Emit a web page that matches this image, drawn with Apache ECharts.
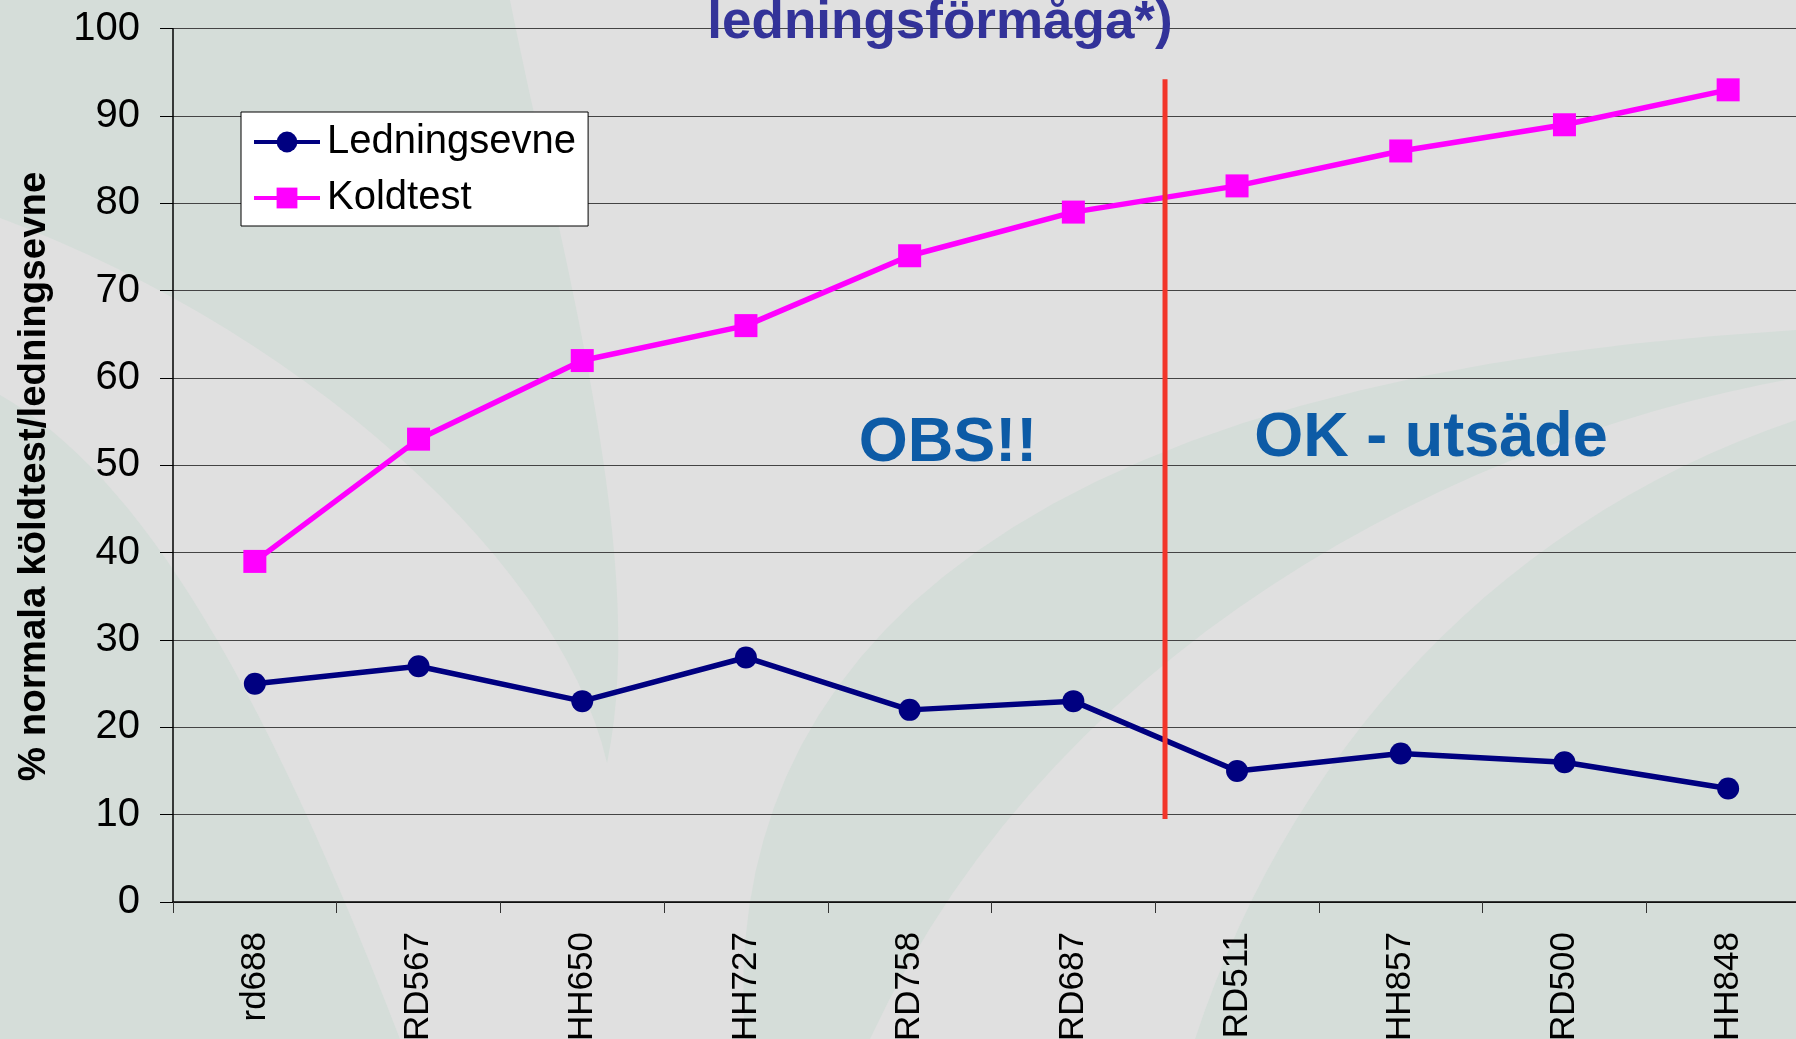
<!DOCTYPE html>
<html>
<head>
<meta charset="utf-8">
<script src="https://cdn.jsdelivr.net/npm/echarts@6/dist/echarts.min.js"></script>
<style>
html, body { margin: 0; padding: 0; background: #e0e0e0; }
#visual { width: 1796px; height: 1039px; }
</style>
</head>
<body>
<div id="visual"></div>
<script>
var sorter = ['rd688', 'RD567', 'HH650', 'HH727', 'RD758', 'RD687', 'RD511', 'HH857', 'RD500', 'HH848'];
var ledningsevne = [25, 27, 23, 28, 22, 23, 15, 17, 16, 13];
var koldtest = [39, 53, 62, 66, 74, 79, 82, 86, 89, 93];
var yTicks = [0, 10, 20, 30, 40, 50, 60, 70, 80, 90, 100];
// the red divider: position in category units, from / to in %
var dividerX = 5.56;
var dividerFrom = 9.5;
var dividerTo = 94.2;

var FONT = 'Liberation Sans, Arial, sans-serif';
var green = '#d5ddd9';

/* background leaves (decoration only): cubic pieces [p0, c1, c2, p3] or single points */
var curve = function(p0, p1, p2, p3) {
	var pts = [];
	for (var i = 0; i <= 30; i++) {
		var t = i / 30, u = 1 - t;
		pts.push([
			u*u*u*p0[0] + 3*u*u*t*p1[0] + 3*u*t*t*p2[0] + t*t*t*p3[0],
			u*u*u*p0[1] + 3*u*u*t*p1[1] + 3*u*t*t*p2[1] + t*t*t*p3[1]
		]);
	}
	return pts;
};
var leaf = function(pieces) {
	var pts = [];
	pieces.forEach(function(p) {
		if (p.length == 4) pts = pts.concat(curve(p[0], p[1], p[2], p[3]));
		else pts.push(p);
	});
	return { type: 'polygon', z: -10, silent: true, shape: { points: pts }, style: { fill: green } };
};

var chartDom = document.getElementById('visual');
var myChart = echarts.init(chartDom);

var options = {
	backgroundColor: '#e0e0e0',
	animation: false,
	graphic: [
		leaf([[0, 0], [[510, 0], [560, 250], [650, 560], [607, 763]], [[607, 763], [560, 560], [300, 330], [0, 218]]]),
		leaf([[[0, 395], [130, 470], [250, 650], [400, 1039]], [0, 1039]]),
		leaf([[[745, 1039], [720, 700], [950, 380], [1796, 330]], [[1796, 378], [1450, 440], [1050, 650], [870, 1039]]]),
		leaf([[[1796, 420], [1500, 520], [1290, 750], [1195, 1039]], [1796, 1039]]),
		{ type: 'text', z: 10, x: 940, y: 23,
			style: { text: 'ledningsförmåga*)', fill: '#333399', font: 'bold 53px ' + FONT, textAlign: 'center', textVerticalAlign: 'middle' } },
		{ type: 'text', z: 10, x: 948, y: 444,
			style: { text: 'OBS!!', fill: '#0d5ba6', font: 'bold 63px ' + FONT, textAlign: 'center', textVerticalAlign: 'middle' } },
		{ type: 'text', z: 10, x: 1431, y: 439,
			style: { text: 'OK - utsäde', fill: '#0d5ba6', font: 'bold 63px ' + FONT, textAlign: 'center', textVerticalAlign: 'middle' } }
	],
	grid: {
		left: 173,
		right: -14,
		top: 28.7,
		bottom: 137,
		outerBoundsMode: 'none'
	},
	legend: {
		data: [
			{ name: 'Ledningsevne' },
			{ name: 'Koldtest' }
		],
		orient: 'vertical',
		left: 241,
		top: 112,
		backgroundColor: '#ffffff',
		borderColor: '#000000',
		borderWidth: 1,
		borderRadius: 0,
		padding: [10, 12, 8, 11],
		itemGap: 16,
		itemWidth: 66,
		itemHeight: 26,
		lineStyle: { width: 4 },
		textStyle: { fontSize: 40, color: '#000', fontFamily: FONT, padding: [0, 0, 0, 2] }
	},
	xAxis: [
		{
			type: 'category',
			data: sorter,
			boundaryGap: true,
			axisLine: { lineStyle: { color: '#000', width: 1.5 } },
			axisTick: { show: true, length: 11, interval: 0, lineStyle: { color: '#333' } },
			axisLabel: { interval: 0, rotate: 90, fontSize: 35, color: '#000', fontFamily: FONT, margin: 30 },
			splitLine: { show: false }
		},
		{
			type: 'value',
			show: false,
			min: -0.5,
			max: 9.5
		}
	],
	yAxis: {
		type: 'value',
		min: yTicks[0],
		max: yTicks[yTicks.length - 1],
		interval: 10,
		name: '% normala köldtest/ledningsevne',
		nameLocation: 'middle',
		nameGap: 119,
		nameTextStyle: { fontSize: 38.5, fontWeight: 'bold', color: '#000', fontFamily: FONT, padding: [0, 22, 0, 0] },
		axisLine: { show: true, onZero: false, lineStyle: { color: '#000', width: 1.5 } },
		axisTick: { show: true, length: 13, lineStyle: { color: '#000' } },
		axisLabel: { fontSize: 40, color: '#000', fontFamily: FONT, margin: 33 },
		splitLine: { show: true, lineStyle: { color: '#444', width: 1.2 } }
	},
	series: [
		{
			name: 'Ledningsevne',
			type: 'line',
			data: ledningsevne,
			symbol: 'circle',
			symbolSize: 22,
			color: '#000080',
			lineStyle: { width: 5.5, color: '#000080' },
			itemStyle: { color: '#000080' },
			z: 4
		},
		{
			name: 'Koldtest',
			type: 'line',
			data: koldtest,
			symbol: 'rect',
			symbolSize: 23,
			color: '#ff00ff',
			lineStyle: { width: 5.5, color: '#ff00ff' },
			itemStyle: { color: '#ff00ff' },
			z: 4
		},
		{
			name: 'divider',
			type: 'line',
			xAxisIndex: 1,
			data: [[dividerX, dividerFrom], [dividerX, dividerTo]],
			symbol: 'none',
			lineStyle: { width: 5, color: '#f2352a' },
			z: 5
		}
	]
};
myChart.setOption(options);
</script>
</body>
</html>
